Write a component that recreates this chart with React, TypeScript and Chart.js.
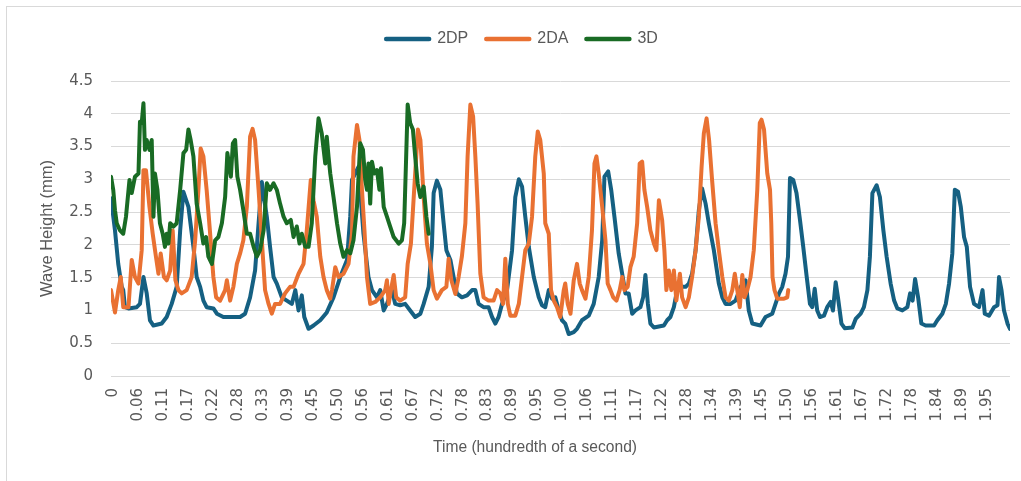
import { useEffect, useRef } from 'react';
import { Chart, registerables } from 'chart.js';

Chart.register(...registerables);

// x = sample index (one tick label every 10 samples), y = wave height (mm)
const tickLabels = ['0', '0.06', '0.11', '0.17', '0.22', '0.28', '0.33', '0.39', '0.45', '0.50', '0.56', '0.61', '0.67', '0.72', '0.78', '0.83', '0.89', '0.95', '1.00', '1.06', '1.11', '1.17', '1.22', '1.28', '1.34', '1.39', '1.45', '1.50', '1.56', '1.61', '1.67', '1.72', '1.78', '1.84', '1.89', '1.95'];
const samplesPerLabel = 10;
const lastSample = 360;

const seriesNames = ['2DP', '2DA', '3D'];
const seriesColors = ['#156082', '#E97132', '#196B24'];

const series2DP: [number, number][] = [[0,2.71],[1.6,2.22],[2.9,1.71],[4.3,1.36],[4.9,1.31],[5.6,1.05],[7,1.03],[10.3,1.05],[11.6,1.1],[13,1.51],[14.3,1.26],[15.6,0.85],[17,0.77],[20.3,0.8],[22.3,0.9],[24.3,1.1],[26.3,1.36],[27.7,2.22],[29,2.81],[31,2.58],[33,1.97],[34.3,1.51],[35.7,1.36],[37,1.15],[38.3,1.05],[41,1.03],[42.4,0.95],[45,0.9],[51.7,0.9],[53.7,0.95],[55.7,1.2],[57.7,1.61],[59.1,2.33],[60.4,2.96],[62.4,2.43],[63.7,1.97],[65.1,1.51],[66.4,1.41],[68.4,1.2],[70.4,1.15],[72.4,1.1],[73.8,1.31],[75.1,1.0],[76.4,1.23],[77.4,0.9],[79.1,0.72],[81.1,0.77],[83.8,0.85],[86.4,0.97],[89.1,1.2],[91.8,1.51],[94.5,1.77],[95.8,2.43],[96.5,2.99],[99.1,3.19],[101.1,2.17],[103.1,1.51],[104.5,1.31],[106.5,1.2],[107.8,1.31],[109.2,1.0],[110.5,1.1],[112.5,1.31],[113.8,1.1],[115.8,1.08],[117.8,1.1],[119.8,1.0],[121.8,0.9],[123.9,0.95],[125.2,1.1],[127.2,1.36],[128.5,1.97],[129.2,2.79],[130.5,2.98],[131.9,2.84],[133.2,2.33],[134.3,1.92],[135.9,1.77],[137.2,1.51],[138.5,1.26],[140.5,1.2],[142.6,1.23],[144.6,1.31],[145.9,1.31],[147.2,1.1],[149.2,1.05],[151.2,1.05],[152.6,0.9],[153.9,0.8],[155.2,0.9],[156.6,1.1],[158.6,1.31],[160.6,1.92],[161.9,2.73],[163.3,3.0],[164.6,2.89],[165.9,2.43],[167.3,1.97],[169.3,1.51],[171.3,1.2],[172.6,1.08],[173.9,1.05],[175.3,1.31],[176.6,1.18],[177.9,1.2],[179.3,1.0],[180.6,0.85],[181.9,0.8],[183.3,0.64],[185.3,0.67],[186.6,0.72],[188.6,0.85],[191.3,0.92],[193.3,1.1],[195.3,1.51],[196.7,2.07],[197.6,3.04],[199.1,3.12],[200.3,2.84],[201.6,2.43],[203.3,1.87],[204.7,1.56],[206,1.26],[207.3,1.26],[208.7,0.95],[210,1.0],[212,1.05],[213.1,1.2],[214,1.54],[215,1.1],[216,0.8],[217.4,0.74],[221.4,0.77],[222.7,0.85],[224,0.9],[225.4,1.05],[226.7,1.31],[228,1.36],[230.1,1.36],[231.4,1.41],[232.7,1.56],[234.1,1.92],[235.4,2.53],[236.7,2.86],[238.1,2.63],[239.4,2.33],[241.4,1.92],[243.4,1.41],[244.8,1.2],[246.1,1.1],[248.1,1.1],[250.1,1.15],[252.1,1.36],[254.1,1.46],[255.4,1.0],[256.8,0.8],[260.1,0.77],[262.1,0.9],[264.8,0.95],[266.1,1.1],[267.5,1.26],[268.8,1.36],[270.1,1.56],[271.1,1.82],[271.9,3.02],[273.2,2.99],[274.5,2.79],[275.9,2.38],[277.2,1.97],[278.6,1.51],[279.9,1.1],[280.8,1.05],[281.8,1.33],[282.8,1.0],[283.9,0.9],[285.5,0.92],[286.8,1.05],[288.2,1.13],[289.1,1.0],[290.2,1.43],[291.1,1.2],[292.5,0.8],[293.8,0.73],[296.9,0.74],[298.2,0.87],[300.2,0.95],[301.5,1.05],[302.9,1.31],[303.9,1.82],[304.9,2.79],[306.6,2.91],[307.9,2.73],[309.3,2.22],[310.6,1.82],[312.2,1.41],[313.6,1.15],[314.9,1.03],[316.9,1.0],[318.9,1.05],[320,1.26],[321,1.15],[322,1.48],[323.2,1.2],[324.5,0.8],[326.2,0.77],[329.6,0.77],[330.9,0.85],[332.9,0.95],[334.3,1.1],[335.6,1.41],[336.9,1.87],[337.9,2.84],[339.2,2.81],[340.3,2.58],[341.6,2.12],[342.7,1.97],[344,1.36],[345.6,1.1],[347.6,1.05],[349,1.31],[349.9,0.95],[351.6,0.92],[353.6,1.05],[355,1.08],[355.6,1.51],[356.6,1.31],[357.6,1.0],[359,0.8],[360,0.72]];

const series2DA: [number, number][] = [[0,1.31],[1.6,0.97],[2.9,1.31],[3.9,1.51],[4.9,1.05],[7,1.05],[8.3,1.77],[9.6,1.51],[11,1.41],[12.3,1.92],[13,3.14],[14,3.14],[15.4,2.58],[16.7,2.17],[18,1.82],[19,1.56],[19.9,1.87],[21.2,1.51],[22.3,1.46],[23.7,1.61],[24.7,2.22],[25.8,1.46],[27,1.31],[28.3,1.26],[30.3,1.31],[32.3,1.51],[33.7,2.07],[35,2.84],[35.9,3.47],[37,3.35],[38.3,2.84],[39.7,2.17],[41,1.51],[42.1,1.2],[43.7,1.15],[45.7,1.31],[46.4,1.46],[47.7,1.15],[49,1.36],[50.4,1.71],[51.7,1.87],[53,2.07],[54.4,2.58],[55.7,3.65],[56.7,3.77],[57.7,3.6],[59.1,2.84],[60.4,2.07],[61.7,1.31],[63.1,1.1],[64.4,0.95],[65.7,1.1],[67.7,1.1],[69.7,1.26],[71.7,1.36],[73.1,1.36],[75.1,1.56],[77.1,1.71],[78.4,2.22],[80,2.99],[81.1,2.68],[82.4,2.43],[83.8,1.82],[85.1,1.51],[86.4,1.31],[87.8,1.18],[88.5,1.31],[89.8,1.66],[91.1,1.51],[93.1,1.56],[95.1,1.71],[96.5,2.17],[97.1,3.35],[98.5,3.83],[99.5,3.6],[100.5,2.84],[101.5,2.22],[102.5,1.51],[103.8,1.1],[105.8,1.13],[107.8,1.2],[109.8,1.31],[110.5,1.46],[111.2,1.1],[112.1,1.31],[113.2,1.54],[114.2,1.2],[115.8,1.15],[117.8,1.2],[118.8,1.71],[120.1,2.02],[121.4,2.84],[122.9,3.76],[123.9,3.6],[125.2,2.73],[126.5,2.02],[127.9,1.71],[129.2,1.31],[130.5,1.18],[132.5,1.31],[134.3,1.36],[135.2,1.79],[136.3,1.46],[137.9,1.25],[139.2,1.51],[140.5,1.82],[141.9,2.33],[142.8,3.35],[143.9,4.14],[145,3.96],[145.9,3.35],[146.8,2.63],[147.9,1.56],[149.2,1.2],[151.2,1.15],[153.2,1.15],[154.6,1.31],[155.9,1.26],[157,1.1],[157.9,1.79],[158.9,1.1],[159.9,0.92],[161.9,0.92],[163.3,1.1],[164.6,1.51],[165.9,1.92],[167.3,2.02],[168.6,2.43],[169.9,3.35],[170.9,3.73],[171.9,3.6],[173.3,3.09],[173.9,2.33],[175.3,2.17],[176.2,1.31],[177.3,1.15],[178.6,1.05],[179.9,0.9],[181.3,1.31],[181.9,1.41],[182.9,1.1],[184,0.95],[185.3,1.46],[186.6,1.71],[187.7,1.41],[188.6,1.31],[190,1.18],[191.3,1.51],[192.6,2.22],[193.6,3.24],[194.4,3.35],[195.3,3.09],[196.7,2.58],[198,2.07],[198.9,1.41],[200,1.31],[201.1,1.2],[202.4,1.15],[203.7,1.31],[204.7,1.51],[205.6,1.31],[206.9,1.36],[208,1.66],[209.3,1.82],[210.7,2.33],[211.7,3.24],[212.7,3.27],[213.6,2.84],[214.7,2.58],[216,2.22],[217.4,2.02],[218.4,1.92],[219.4,2.68],[220.7,2.38],[221.6,1.92],[222.4,1.31],[223.4,1.61],[224.4,1.31],[225.4,1.61],[226.4,1.15],[227.8,1.56],[228.7,1.2],[230.1,1.05],[231.4,1.2],[232.7,1.51],[234.1,1.92],[235.4,2.43],[236.5,3.19],[237.4,3.7],[238.5,3.93],[239.5,3.6],[240.7,2.99],[242.1,2.33],[243.4,1.92],[244.8,1.51],[246.1,1.2],[247.4,1.15],[248.8,1.31],[249.8,1.56],[250.8,1.31],[251.8,1.05],[252.8,1.54],[253.7,1.2],[254.8,1.31],[256.1,1.51],[257.4,1.92],[258.8,2.84],[259.8,3.86],[260.5,3.91],[261.5,3.76],[262.8,3.09],[263.9,2.84],[264.4,2.33],[264.9,1.51],[265.7,1.31],[266.8,1.18],[269.5,1.18],[270.8,1.2],[271.2,1.31]];

const series3D: [number, number][] = [[0,3.04],[0.9,2.84],[1.6,2.53],[2.3,2.33],[3.6,2.22],[4.9,2.17],[6,2.43],[7.4,2.99],[8.3,2.79],[9.6,3.04],[11,3.09],[11.6,3.88],[12.3,3.86],[13,4.16],[13.6,3.45],[14.3,3.6],[15.4,3.45],[16.3,3.6],[17,2.43],[17.6,3.09],[18.6,2.84],[19.6,2.33],[20.7,2.17],[21.6,1.97],[22.3,2.17],[23,2.02],[23.7,2.33],[25,2.28],[26.3,2.33],[27.7,2.84],[29,3.4],[30.1,3.45],[31,3.76],[31.9,3.6],[33,3.35],[34.3,2.63],[35.7,2.33],[37,2.02],[38.1,2.12],[39,1.82],[40.4,1.71],[41.7,2.07],[43,2.12],[44.4,2.33],[45.7,2.73],[46.6,3.4],[48,3.04],[48.8,3.55],[49.7,3.6],[50.6,3.04],[51.7,2.84],[53,2.53],[54.4,2.17],[55.7,2.17],[57.1,1.97],[58.4,1.82],[59.7,1.92],[61.1,2.22],[62.4,2.94],[63.7,2.84],[65.1,2.94],[66.4,2.84],[67.7,2.63],[69.1,2.43],[70.4,2.33],[72,2.38],[73.1,2.12],[74.4,2.28],[75.5,2.02],[76.4,2.17],[77.8,1.97],[79.1,1.97],[80.4,2.33],[81.8,3.35],[83.1,3.93],[84.4,3.7],[85.8,3.24],[86.4,3.65],[87.1,3.35],[87.8,3.09],[89.1,2.73],[90.5,2.33],[91.8,2.02],[93.1,1.82],[94.5,1.92],[95.8,1.87],[97.1,2.07],[98.5,2.58],[99.8,3.55],[100.9,3.45],[101.8,2.99],[102.5,2.84],[103.1,3.24],[103.8,2.63],[104.5,3.27],[105.4,3.09],[106.5,3.14],[107.5,2.84],[108.1,3.17],[109.2,2.58],[110.5,2.43],[111.8,2.28],[113.2,2.12],[115.2,2.02],[116.5,2.07],[117.4,2.33],[118.2,3.35],[118.8,4.14],[119.8,3.86],[120.9,3.76],[121.8,3.35],[122.8,2.94],[123.9,2.73],[125.2,2.89],[126.3,2.43],[127.2,2.17]];

const allSeries = [series2DP, series2DA, series3D];

const TEXT = '#595959';
const GRID = '#D9D9D9';

const xTitlePlugin = {
  id: 'xTitle',
  afterDraw(chart: any) {
    const { ctx, chartArea } = chart;
    ctx.save();
    ctx.font = '15.6px "Liberation Sans", Arial, sans-serif';
    ctx.fillStyle = TEXT;
    ctx.textAlign = 'center';
    ctx.textBaseline = 'middle';
    ctx.fillText('Time (hundredth of a second)', chartArea.left + 424, chartArea.bottom + 72);
    ctx.restore();
  },
};

export default function App() {
  const ref = useRef<HTMLCanvasElement>(null);

  useEffect(() => {
    document.body.style.margin = '0';
    const canvas = ref.current;
    if (!canvas) return;
    const datasets = allSeries.map((s, i) => ({
      label: seriesNames[i],
      data: s.map(([x, y]) => ({ x, y })),
      borderColor: seriesColors[i],
      backgroundColor: seriesColors[i],
      borderWidth: 4,
      pointRadius: 0,
      pointHoverRadius: 0,
      tension: 0,
      fill: false,
      borderJoinStyle: 'round' as const,
      borderCapStyle: 'round' as const,
      order: 3 - i,
    }));

    const chart = new Chart(canvas, {
      type: 'line',
      data: { datasets },
      options: {
        animation: false,
        responsive: false,
        devicePixelRatio: 1,
        layout: { padding: { left: 34, right: 11, top: 13, bottom: 0 } },
        plugins: {
          tooltip: { enabled: false },
          legend: {
            position: 'top',
            align: 'center',
            labels: {
              usePointStyle: true,
              pointStyleWidth: 43,
              padding: 18,
              color: TEXT,
              font: { family: '"Liberation Sans", Arial, sans-serif', size: 16 },
              generateLabels: (c: any) =>
                c.data.datasets.map((ds: any, i: number) => ({
                  text: ds.label,
                  fillStyle: ds.borderColor,
                  strokeStyle: ds.borderColor,
                  fontColor: TEXT,
                  lineWidth: 4.5,
                  lineCap: 'round',
                  pointStyle: 'line',
                  hidden: false,
                  datasetIndex: i,
                })),
            },
          },
          subtitle: {
            display: true,
            text: '',
            position: 'top',
            weight: 500,
            font: { size: 24, lineHeight: 1 },
            padding: 0,
          },
        },
        scales: {
          x: {
            type: 'linear',
            min: 0,
            max: lastSample,
            grid: { display: false, drawTicks: false },
            border: { display: false },
            afterBuildTicks: (s: any) => {
              s.ticks = tickLabels.map((_, i) => ({ value: i * samplesPerLabel }));
            },
            ticks: {
              autoSkip: false,
              minRotation: 90,
              maxRotation: 90,
              padding: 12,
              labelOffset: 2,
              color: TEXT,
              font: { family: '"DejaVu Sans", sans-serif', size: 15 },
              callback: (v: any) => tickLabels[Math.round(Number(v) / samplesPerLabel)] ?? '',
            },
            afterFit: (s: any) => {
              s.height = 105;
            },
          },
          y: {
            min: 0,
            max: 4.5,
            grid: { color: GRID, lineWidth: 1, drawTicks: false },
            border: { display: false },
            ticks: {
              stepSize: 0.5,
              padding: 18,
              color: TEXT,
              font: { family: '"DejaVu Sans", sans-serif', size: 15 },
              callback: (v: any) => String(v),
            },
            title: {
              display: true,
              text: 'Wave Height (mm)',
              color: TEXT,
              font: { family: '"Liberation Sans", Arial, sans-serif', size: 16.5 },
              padding: { top: 4, bottom: 0 },
            },
            afterFit: (s: any) => {
              s.width = 77;
            },
          },
        },
      },
      plugins: [xTitlePlugin],
    });
    return () => chart.destroy();
  }, []);

  return (
    <div style={{ position: 'relative', width: 1021, height: 481, background: '#fff', overflow: 'hidden' }}>
      <div
        style={{
          position: 'absolute',
          left: 6,
          top: 6,
          right: 0,
          bottom: 0,
          borderLeft: '1px solid #D9D9D9',
          borderTop: '1px solid #D9D9D9',
        }}
      />
      <canvas ref={ref} width={1021} height={481} style={{ position: 'absolute', left: 0, top: 0 }} />
    </div>
  );
}
